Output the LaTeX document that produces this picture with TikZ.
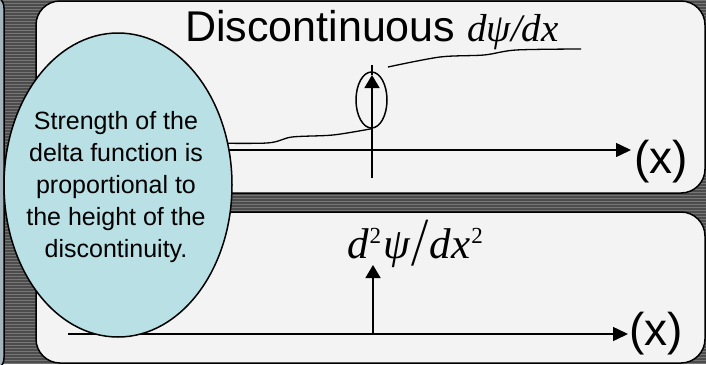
\documentclass[tikz,border=0pt]{standalone}
\usepackage{fontspec}
\usepackage{graphicx}
\setmainfont{Liberation Sans}
\newfontfamily\tnr{Liberation Serif}
\usetikzlibrary{arrows.meta,shapes.geometric}
\definecolor{panelfill}{RGB}{243,243,243}
\definecolor{ovalfill}{RGB}{185,224,228}
\definecolor{stripdark}{RGB}{76,76,76}
\definecolor{striplight}{RGB}{118,118,118}
\definecolor{sidefill}{RGB}{165,181,190}
\newcommand{\supii}{\hspace{1pt}\raisebox{15pt}{\fontsize{23}{23}\selectfont\upshape 2}}
\begin{document}
\begin{tikzpicture}[x=1pt,y=-1pt,
  panel/.style={draw=black, line width=1.5pt, fill=panelfill, rounded corners=24pt},
  axis/.style={line width=1.5pt, -{Triangle[length=15pt,width=14pt]}},
  uparrow/.style={line width=1.5pt, -{Triangle[length=13pt,width=15pt]}},
  hand/.style={line width=1.3pt},
  bigfont/.style={font=\fontsize{43}{43}\selectfont},
  xfont/.style={font=\fontsize{46}{46}\selectfont},
  notefont/.style={font=\fontsize{25}{32}\selectfont}
]
\useasboundingbox (0,0) rectangle (706,364);
\clip (0,0) rectangle (706,364);
% striped background
\fill[stripdark] (0,0) rectangle (706,364);
\foreach \y in {0,3,...,363} \draw[striplight, line width=1.2pt] (0,\y+0.8) -- (706,\y+0.8);
% left side strip
\draw[draw=black, line width=1.5pt, fill=sidefill, rounded corners=14pt] (-40,-6) rectangle (4,372);
% panels
\draw[panel] (36,1) rectangle (705,193);
\draw[panel] (36,212) rectangle (705,363);

% top panel
\coordinate (a1s) at (68,150);
\coordinate (a1e) at (631,150);
\draw[axis] (a1s) -- (a1e);
\node[anchor=base west, inner sep=0, xfont] (x1) at (634,173) {(x)};
\coordinate (v1b) at (372,178);
\coordinate (v1h) at (372,75);
\coordinate (v1t) at (372,65);
\draw[uparrow] (v1b) -- (v1h);
\draw[line width=1.5pt] (v1h) -- (v1t);
\node[draw, line width=1.5pt, ellipse, minimum width=31pt, minimum height=56pt, inner sep=0] (ring) at (371.5,100) {};
\draw[hand] plot[smooth, tension=0.5] coordinates {(200,143) (267,143) (292,137) (333,135) (ring.south)};
\node[anchor=base west, inner sep=0, bigfont] (title) at (185,41) {Discontinuous\hspace{12pt}{\tnr\itshape\fontsize{39}{39}\selectfont dψ/dx}};
\draw[hand] plot[smooth, tension=0.5] coordinates {(388,67) (440,57) (484,55) (516,50) (581,49)};

% bottom panel
\coordinate (a2s) at (68,334);
\coordinate (a2e) at (628,334);
\draw[axis] (a2s) -- (a2e);
\node[anchor=base west, inner sep=0, xfont] (x2) at (629,345) {(x)};
\coordinate (v2b) at (373,334);
\coordinate (v2t) at (373,265);
\draw[uparrow] (v2b) -- (v2t);
\node[anchor=base west, inner sep=0] (lab2) at (347,258) {\tnr\itshape\fontsize{43}{43}\selectfont d\supii\hspace{2pt}ψ\hspace{4pt}\raisebox{-7pt}{\scalebox{1}[1.6]{/}}\hspace{4pt}dx\supii};

% note ellipse
\node[draw, line width=1.5pt, fill=ovalfill, ellipse, minimum width=228pt, minimum height=304pt, inner sep=0] (note) at (118,185) {};
\node[align=center, inner sep=0, notefont] (notetext) at (116,187.5) {Strength of the\\delta function is\\proportional to\\the height of the\\discontinuity.};
\end{tikzpicture}
\end{document}
